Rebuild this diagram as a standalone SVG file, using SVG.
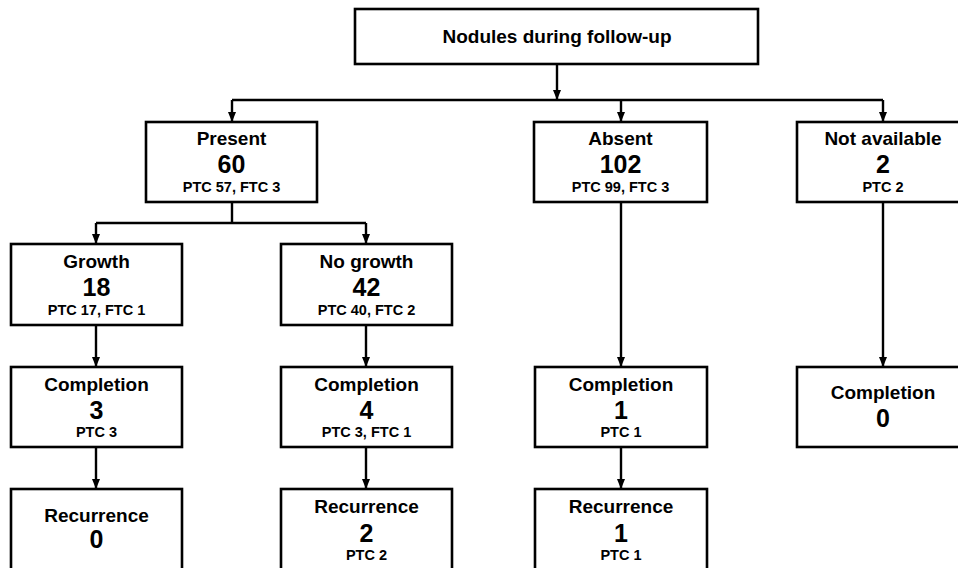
<svg xmlns="http://www.w3.org/2000/svg" width="958" height="568" viewBox="0 0 958 568">
<defs>
<marker id="ah" markerUnits="userSpaceOnUse" markerWidth="10" markerHeight="10" viewBox="0 0 10 10" refX="10" refY="5" orient="auto">
<path d="M0,1 L10,5 L0,9 Z" fill="#000"/>
</marker>
<style>
.box{fill:#fff;stroke:#000;stroke-width:2.6}
.c{fill:none;stroke:#000;stroke-width:2.4}
.a{marker-end:url(#ah)}
text{font-family:"Liberation Sans",Arial,sans-serif;font-weight:bold;text-anchor:middle;fill:#000}
.lb{font-size:19px}
.nm{font-size:25px}
.sb{font-size:14.5px}
</style>
</defs>
<rect width="958" height="568" fill="#fff"/>
<g id="connectors">
<path class="c a" d="M557,64 V100"/>
<path class="c" d="M232,100 H883"/>
<path class="c a" d="M232,100 V122"/>
<path class="c a" d="M621,100 V122"/>
<path class="c a" d="M883,100 V122"/>
<path class="c" d="M232,202 V223 M96,223 H366"/>
<path class="c a" d="M96,223 V244"/>
<path class="c a" d="M366,223 V244"/>
<path class="c a" d="M96,325 V367"/>
<path class="c a" d="M366,325 V367"/>
<path class="c a" d="M96,447 V489"/>
<path class="c a" d="M366,447 V489"/>
<path class="c a" d="M621,202 V367"/>
<path class="c a" d="M621,447 V489"/>
<path class="c a" d="M883,202 V367"/>
</g>
<g id="root">
<rect class="box" x="355" y="9" width="403" height="55"/>
<text class="lb" x="557" y="43">Nodules during follow-up</text>
</g>
<g id="present">
<rect class="box" x="146" y="122" width="171" height="80"/>
<text class="lb" x="231.5" y="145">Present</text>
<text class="nm" x="231.5" y="173">60</text>
<text class="sb" x="231.5" y="192">PTC 57, FTC 3</text>
</g>
<g id="absent">
<rect class="box" x="534" y="122" width="173" height="80"/>
<text class="lb" x="620.5" y="145">Absent</text>
<text class="nm" x="620.5" y="173">102</text>
<text class="sb" x="620.5" y="192">PTC 99, FTC 3</text>
</g>
<g id="notavailable">
<rect class="box" x="797" y="122" width="172" height="80"/>
<text class="lb" x="883" y="145">Not available</text>
<text class="nm" x="883" y="173">2</text>
<text class="sb" x="883" y="192">PTC 2</text>
</g>
<g id="growth">
<rect class="box" x="11" y="244" width="171" height="81"/>
<text class="lb" x="96.5" y="268">Growth</text>
<text class="nm" x="96.5" y="296">18</text>
<text class="sb" x="96.5" y="315">PTC 17, FTC 1</text>
</g>
<g id="nogrowth">
<rect class="box" x="281" y="244" width="171" height="81"/>
<text class="lb" x="366.5" y="268">No growth</text>
<text class="nm" x="366.5" y="296">42</text>
<text class="sb" x="366.5" y="315">PTC 40, FTC 2</text>
</g>
<g id="completion-growth">
<rect class="box" x="11" y="367" width="171" height="80"/>
<text class="lb" x="96.5" y="391">Completion</text>
<text class="nm" x="96.5" y="419">3</text>
<text class="sb" x="96.5" y="437">PTC 3</text>
</g>
<g id="completion-nogrowth">
<rect class="box" x="281" y="367" width="171" height="80"/>
<text class="lb" x="366.5" y="391">Completion</text>
<text class="nm" x="366.5" y="419">4</text>
<text class="sb" x="366.5" y="437">PTC 3, FTC 1</text>
</g>
<g id="completion-absent">
<rect class="box" x="535" y="367" width="172" height="80"/>
<text class="lb" x="621" y="391">Completion</text>
<text class="nm" x="621" y="419">1</text>
<text class="sb" x="621" y="437">PTC 1</text>
</g>
<g id="completion-na">
<rect class="box" x="797" y="367" width="172" height="80"/>
<text class="lb" x="883" y="399">Completion</text>
<text class="nm" x="883" y="427">0</text>
</g>
<g id="recurrence-growth">
<rect class="box" x="11" y="489" width="171" height="82"/>
<text class="lb" x="96.5" y="522">Recurrence</text>
<text class="nm" x="96.5" y="548">0</text>
</g>
<g id="recurrence-nogrowth">
<rect class="box" x="281" y="489" width="171" height="82"/>
<text class="lb" x="366.5" y="513">Recurrence</text>
<text class="nm" x="366.5" y="542">2</text>
<text class="sb" x="366.5" y="560">PTC 2</text>
</g>
<g id="recurrence-absent">
<rect class="box" x="535" y="489" width="172" height="82"/>
<text class="lb" x="621" y="513">Recurrence</text>
<text class="nm" x="621" y="542">1</text>
<text class="sb" x="621" y="560">PTC 1</text>
</g>
</svg>
